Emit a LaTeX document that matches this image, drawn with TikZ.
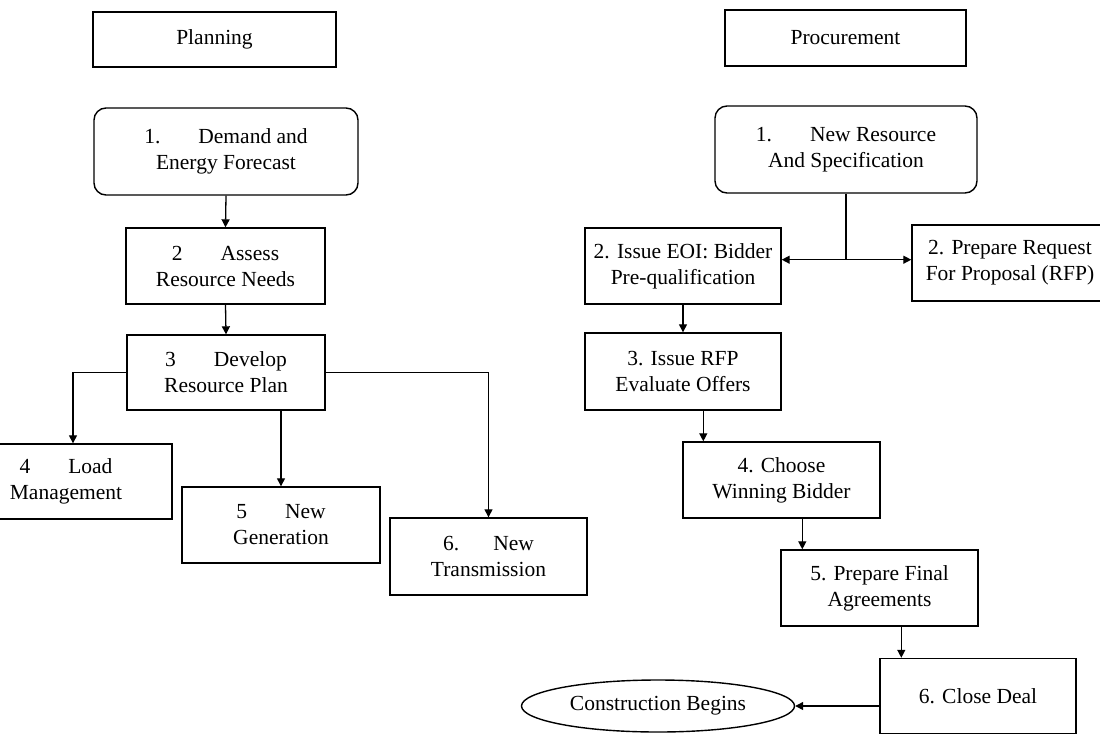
\documentclass[tikz,border=0pt]{standalone}
\usepackage{fontspec}
\setmainfont{Liberation Serif}
\usetikzlibrary{arrows.meta,calc,shapes.geometric}
\begin{document}
\begin{tikzpicture}[x=1pt,y=-1pt,
  every node/.style={font=\fontsize{21.5}{26}\selectfont, align=center, inner sep=0pt},
  box/.style={draw, line width=1.4pt, rectangle},
  rbox/.style={box, rounded corners=12pt},
  conn/.style={line width=1.3pt},
  arr/.style={conn, -{Triangle[length=8pt,width=8pt]}},
  darr/.style={conn, {Triangle[length=8pt,width=8pt]}-{Triangle[length=8pt,width=8pt]}}
]
\path[use as bounding box, clip] (0,0) rectangle (1100,734);

% Planning column
\node[box, minimum width=243pt, minimum height=55pt] (PT) at (214.5,39.5) {Planning};
\node[rbox, minimum width=264pt, minimum height=87pt] (P1) at (226,151.5) {1.\hspace{38pt}Demand and\\Energy Forecast};
\node[box, minimum width=199pt, minimum height=76pt] (P2) at (225.5,266) {2\hspace{38pt}Assess\\Resource Needs};
\node[box, minimum width=198pt, minimum height=75pt] (P3) at (226,372.5) {3\hspace{38pt}Develop\\Resource Plan};
\node[box, minimum width=212pt, minimum height=75pt] (P4) at (66,481.5) {4\hspace{38pt}Load\\Management};
\node[box, minimum width=198pt, minimum height=76pt] (P5) at (281,525) {5\hspace{38pt}New\\Generation};
\node[box, minimum width=197pt, minimum height=77pt] (P6) at (488.5,556.5) {6.\hspace{34pt}New\\Transmission};

% Procurement column
\node[box, minimum width=241pt, minimum height=56pt] (QT) at (845.5,38) {Procurement};
\node[rbox, minimum width=262pt, minimum height=87pt] (Q1) at (846,149.5) {1.\hspace{38pt}New Resource\\And Specification};
\node[box, minimum width=196pt, minimum height=76pt] (Q2a) at (683,266) {2. Issue EOI: Bidder\\Pre-qualification};
\node[box, minimum width=196pt, minimum height=76pt] (Q2b) at (1010,263) {2. Prepare Request\\For Proposal (RFP)};
\node[box, minimum width=196pt, minimum height=77pt] (Q3) at (683,371.5) {3. Issue RFP\\Evaluate Offers};
\node[box, minimum width=197pt, minimum height=76pt] (Q4) at (781.5,480) {4. Choose\\Winning Bidder};
\node[box, minimum width=197pt, minimum height=76pt] (Q5) at (879.5,588) {5. Prepare Final\\Agreements};
\node[box, minimum width=196pt, minimum height=75pt] (Q6) at (978,696) {6. Close Deal};
\node[draw, line width=1.4pt, ellipse, minimum width=273pt, minimum height=52pt] (E) at (658,706) {Construction Begins};

% Planning connectors
\draw[arr] (P1.south) -- (P2.north);
\draw[arr] (P2.south) -- (P3.north);
\coordinate (P4in) at ($(P4.north)+(7,0)$);
\draw[arr] (P3.west) -| (P4in);
\draw[arr] (P3.south -| P5.north) -- (P5.north);
\draw[arr] (P3.east) -| (P6.north);

% Procurement connectors
\coordinate (J) at ($(Q1.south)+(0,66)$);
\draw[conn] (Q1.south) -- (J);
\draw[arr] (J) -- (J -| Q2a.east);
\draw[arr] (J) -- (J -| Q2b.west);
\draw[arr] (Q2a.south) -- (Q3.north);
\coordinate (Q4in) at ($(Q4.north west)+(21,0)$);
\draw[arr] (Q3.south -| Q4in) -- (Q4in);
\coordinate (Q5in) at ($(Q5.north west)+(22,0)$);
\draw[arr] (Q4.south -| Q5in) -- (Q5in);
\coordinate (Q6in) at ($(Q6.north west)+(22,0)$);
\draw[arr] (Q5.south -| Q6in) -- (Q6in);
\draw[arr] (E.east -| Q6.west) -- (E.east);
\end{tikzpicture}
\end{document}
